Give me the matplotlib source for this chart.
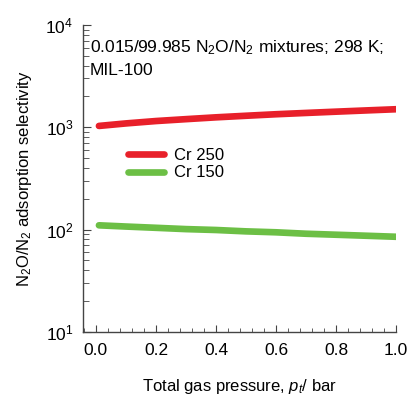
import matplotlib
matplotlib.use('Agg')
import matplotlib.pyplot as plt
from matplotlib.ticker import MultipleLocator, LogLocator, NullFormatter

plt.rcParams['font.family'] = ['Liberation Sans', 'DejaVu Sans']
plt.rcParams['mathtext.fontset'] = 'custom'
plt.rcParams['mathtext.rm'] = 'Liberation Sans'
plt.rcParams['mathtext.it'] = 'Liberation Sans:italic'

pressure = [0.01, 0.1, 0.2, 0.3, 0.4, 0.5, 0.6, 0.7, 0.8, 0.9, 1.0]
sel_cr250 = [1030, 1090, 1150, 1200, 1250, 1295, 1340, 1380, 1420, 1460, 1500]
sel_cr150 = [110, 107, 104, 101, 99, 96, 94, 91, 89, 87, 85]

fig = plt.figure(figsize=(4.07, 3.96), dpi=100)
ax = fig.add_axes([0.204, 0.162, 0.769, 0.775])

ax.plot(pressure, sel_cr250, color='#e8202a', lw=4.8, solid_capstyle='round', label='Cr 250')
ax.plot(pressure, sel_cr150, color='#6cbf45', lw=4.8, solid_capstyle='round', label='Cr 150')

ax.set_yscale('log')
ax.set_ylim(10, 1e4)
ax.set_xlim(-0.043, 1.0)

ax.xaxis.set_major_locator(MultipleLocator(0.2))
ax.xaxis.set_minor_locator(MultipleLocator(0.04))
ax.xaxis.set_major_formatter(plt.FuncFormatter(lambda v, p: f'{v:.1f}'))
ax.yaxis.set_major_locator(LogLocator(base=10))
ax.yaxis.set_minor_locator(LogLocator(base=10, subs=range(2, 10)))
ax.yaxis.set_minor_formatter(NullFormatter())

for s in ['top', 'right']:
    ax.spines[s].set_visible(False)
for s in ['left', 'bottom']:
    ax.spines[s].set_color('#444444')
    ax.spines[s].set_linewidth(1.0)

ax.tick_params(which='both', direction='in', colors='#444444', labelcolor='black', labelsize=12.5)
ax.tick_params(axis='x', which='major', length=5, pad=8)
ax.tick_params(axis='x', which='minor', length=3)
ax.tick_params(axis='y', which='major', length=6, pad=7)
ax.tick_params(axis='y', which='minor', length=4)

ax.set_xlabel('Total gas pressure, $\\mathit{p}_\\mathit{t}$/ bar', fontsize=12, labelpad=14)
ax.set_ylabel('N$_2$O/N$_2$ adsorption selectivity', fontsize=12, labelpad=8)

ax.text(0.022, 0.958, '0.015/99.985 N$_2$O/N$_2$ mixtures; 298 K;\nMIL-100',
        transform=ax.transAxes, fontsize=12.5, va='top', ha='left', linespacing=1.5)

ax.legend(loc='upper left', bbox_to_anchor=(0.121, 0.621), frameon=False, fontsize=12,
          handlelength=2.2, handletextpad=0.6, labelspacing=0.15, borderaxespad=0)

fig.savefig('out.png', dpi=100)
